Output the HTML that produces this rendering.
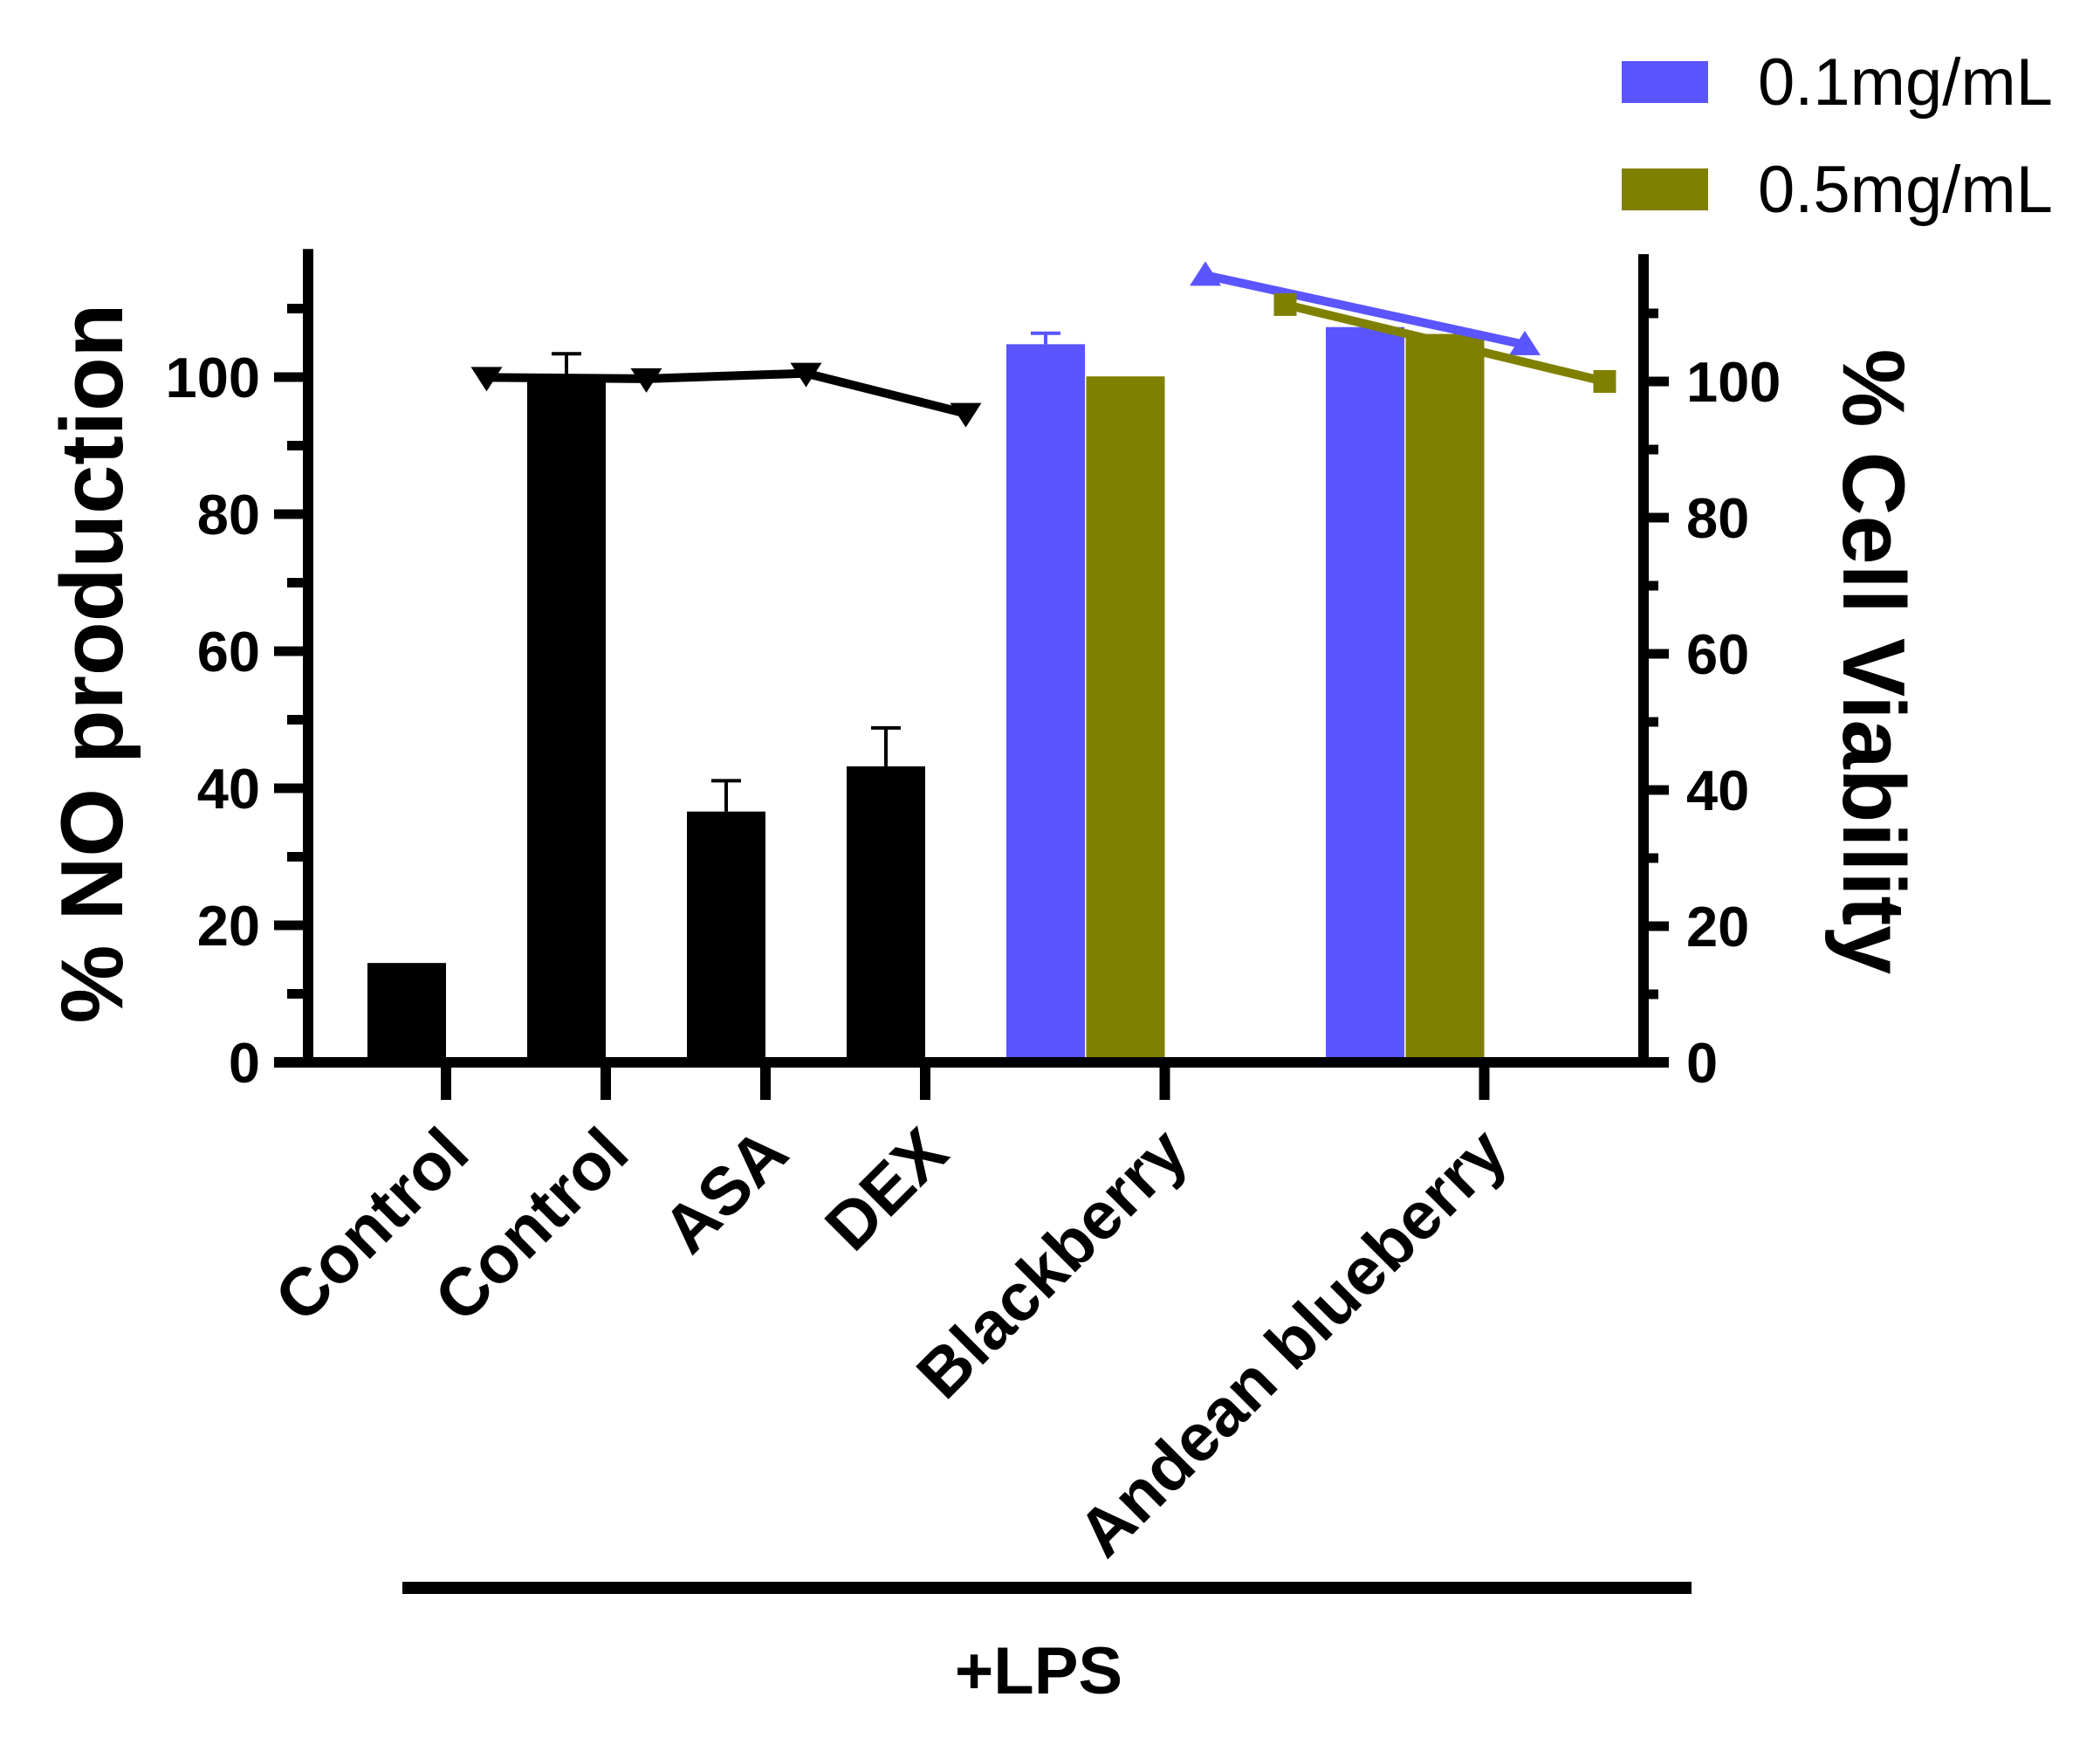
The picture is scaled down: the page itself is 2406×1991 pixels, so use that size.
<!DOCTYPE html>
<html><head><meta charset="utf-8"><style>
html,body{margin:0;padding:0;background:#fff;}
svg{display:block;font-family:"Liberation Sans",Arial,sans-serif;}
</style></head><body>
<svg id="chart" width="2406" height="1991" viewBox="0 0 2406 1991" xmlns="http://www.w3.org/2000/svg">
<g id="axes"></g>
<g id="bars"></g>
<g id="lines"></g>
<text x="0" y="0" transform="translate(140,760) rotate(-90)" text-anchor="middle" font-size="101" font-weight="bold">% NO production</text>
<text x="0" y="0" transform="translate(2112,758) rotate(90)" text-anchor="middle" font-size="101" font-weight="bold">% Cell Viability</text>
<g>
<rect x="1858" y="70" width="99" height="48" fill="#5a55ff"/>
<text x="2014" y="120" font-size="76">0.1mg/mL</text>
<rect x="1858" y="193" width="99" height="48" fill="#808000"/>
<text x="2014" y="243" font-size="76">0.5mg/mL</text>
</g>
<rect x="461" y="1812" width="1477" height="14" fill="#000"/>
<text x="1190" y="1940" text-anchor="middle" font-size="76" font-weight="bold">+LPS</text>
</svg>
<script>
const categories = ["Control","Control","ASA","DEX","Blackberry","Andean blueberry"];
const blackValues = [14.5, 99.6, 36.6, 43.2];
const blackErrors = [0, 3.8, 4.5, 5.6];
const blueValues = [104.8, 107.3];
const blueErrors = [1.6, 0];
const oliveValues = [100.1, 106.3];
const oliveErrors = [0, 0];
const blackLine = [100.6, 100.4, 101.2, 95.3];
const blueLine = [115.6, 105.4];
const oliveLine = [111.3, 100];
const leftTicks = [0,20,40,60,80,100];
const rightTicks = [0,20,40,60,80,100];

const NS="http://www.w3.org/2000/svg";
const X0=466, HS=91.5, BW=90;
const xPos = s => X0 + HS*s;
const yL = v => 1217 - 7.85*v;
const yR = v => 1217 - 7.8*v;
function mk(tag, attrs, parent){const e=document.createElementNS(NS,tag);for(const k in attrs)e.setAttribute(k,attrs[k]);parent.appendChild(e);return e;}
const axes=document.getElementById('axes'), bars=document.getElementById('bars'), lines=document.getElementById('lines');

let e;
e=mk('line',{x1:353,y1:yL(118.7),x2:353,y2:1223,stroke:'#000','stroke-width':12},axes);


e=mk('line',{x1:1883,y1:yR(118.7),x2:1883,y2:1223,stroke:'#000','stroke-width':12},axes);


e=mk('line',{x1:314,y1:1217,x2:1912,y2:1217,stroke:'#000','stroke-width':12},axes);


for(let v=10; v<=110; v+=20){
  e=mk('line',{x1:329,y1:yL(v),x2:353,y2:yL(v),stroke:'#000','stroke-width':11},axes);
  
  
  e=mk('line',{x1:1883,y1:yR(v),x2:1900,y2:yR(v),stroke:'#000','stroke-width':11},axes);
  
  
}
leftTicks.forEach(v=>{
  e=mk('line',{x1:314,y1:yL(v),x2:353,y2:yL(v),stroke:'#000','stroke-width':11},axes);
  
  
  e=mk('text',{x:298,y:yL(v)+23,'text-anchor':'end','font-size':65,'font-weight':'bold'},axes);
  e.textContent=v;
  
  
});
rightTicks.forEach(v=>{
  e=mk('line',{x1:1883,y1:yR(v),x2:1912,y2:yR(v),stroke:'#000','stroke-width':11},axes);
  
  
  e=mk('text',{x:1932,y:yR(v)+23,'text-anchor':'start','font-size':65,'font-weight':'bold'},axes);
  e.textContent=v;
  
  
});
const tickSlots=[0,2,4,6,9,13];
tickSlots.forEach((s,i)=>{
  const tx=xPos(s)+BW/2;
  e=mk('line',{x1:tx,y1:1217,x2:tx,y2:1260,stroke:'#000','stroke-width':12},axes);
  
  
  e=mk('text',{x:0,y:0,transform:`translate(${tx+30},${1325}) rotate(-45)`,'text-anchor':'end','font-size':77,'font-weight':'bold'},axes);
  e.textContent=categories[i];
  
  
});

function bar(slot,val,err,color,name){
  const x=xPos(slot)-BW/2;
  let r=mk('rect',{x:x,y:yL(val),width:BW,height:1211-yL(val),fill:color},bars);
  
  
  if(err>0){
    const cx=xPos(slot), ty=yL(val+err);
    let l=mk('path',{d:`M${cx},${yL(val)} V${ty} M${cx-17},${ty} H${cx+17}`,stroke:color,'stroke-width':4,fill:'none'},bars);
    
    
  }
}
blackValues.forEach((v,i)=>bar(2*i,v,blackErrors[i],'#000','bar-'+i));
blueValues.forEach((v,i)=>bar(8+4*i,v,blueErrors[i],'#5a55ff','bar-blue-'+i));
oliveValues.forEach((v,i)=>bar(9+4*i,v,oliveErrors[i],'#808000','bar-olive-'+i));

function line(slots,vals,color,marker,name){
  const pts=slots.map((s,i)=>[xPos(s),yR(vals[i])]);
  let p=mk('polyline',{points:pts.map(p=>p.join(',')).join(' '),stroke:color,'stroke-width':10,fill:'none'},lines);
  
  
  pts.forEach(([x,y])=>{
    let d;
    if(marker==='down') d=`M${x-18},${y-12} L${x+18},${y-12} L${x},${y+16} Z`;
    else if(marker==='up') d=`M${x-18},${y+12} L${x+18},${y+12} L${x},${y-16} Z`;
    else d=`M${x-13},${y-13} h26 v26 h-26 Z`;
    let m=mk('path',{d:d,fill:color},lines);
    
    
  });
}
line([1,3,5,7],blackLine,'#000','down','black-viability-line');
line([10,14],blueLine,'#5a55ff','up','blue-viability-line');
line([11,15],oliveLine,'#808000','square','olive-viability-line');
</script>
</body></html>
